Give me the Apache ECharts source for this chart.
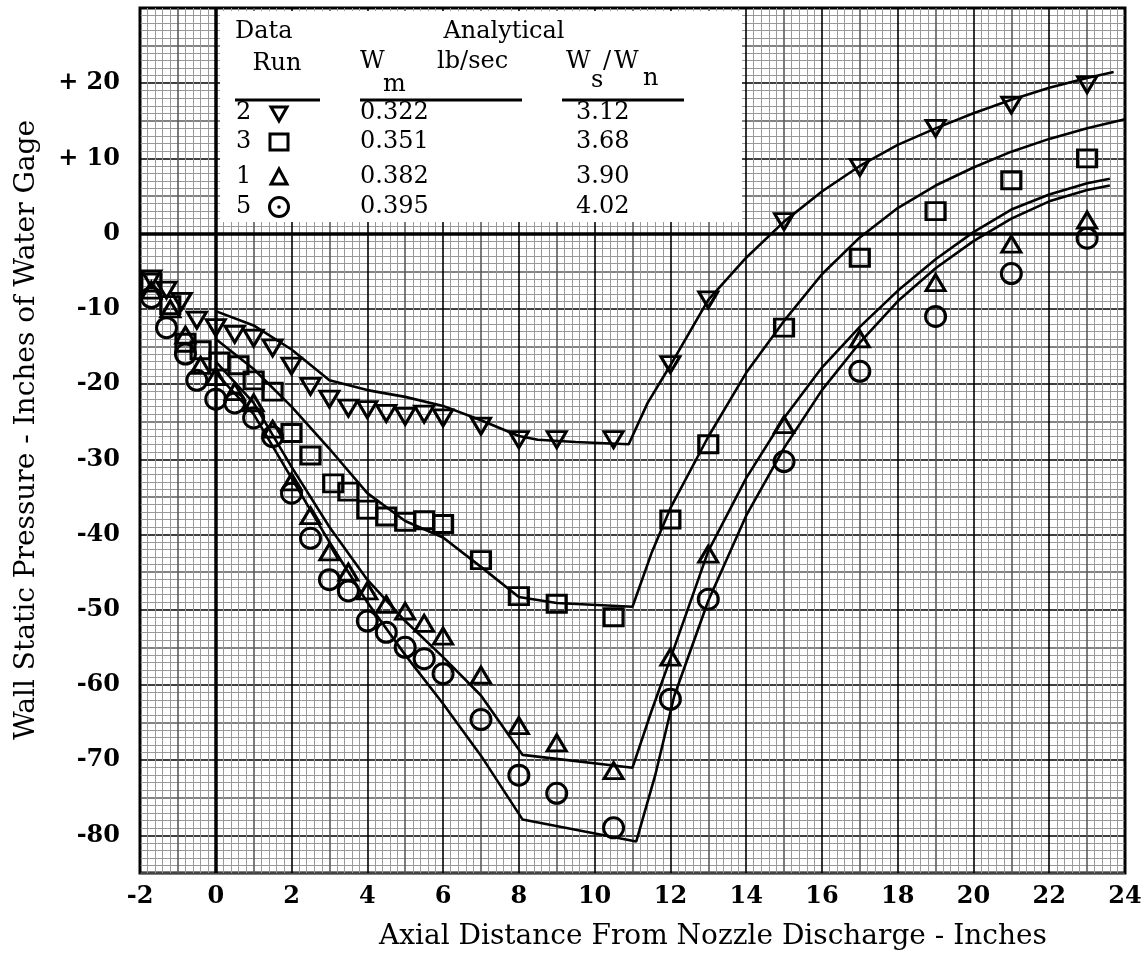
<!DOCTYPE html>
<html>
<head>
<meta charset="utf-8">
<script src="https://cdn.jsdelivr.net/npm/echarts@6/dist/echarts.min.js"></script>
<style>
  html, body { margin: 0; padding: 0; background: #fff; }
  #chart { width: 1145px; height: 955px; }
</style>
</head>
<body>
<div id="chart"></div>
<script>
// measured points, one pair of arrays per data run
const run2X = [-1.7, -1.3, -0.9, -0.5, 0.0, 0.5, 1.0, 1.5, 2.0, 2.5, 3.0, 3.5, 4.0, 4.5, 5.0, 5.5, 6.0, 7.0, 8.0, 9.0, 10.5, 12.0, 13.0, 15.0, 17.0, 19.0, 21.0, 23.0];
const run2Y = [-6.0, -7.5, -9.0, -11.5, -12.5, -13.4, -13.9, -15.2, -17.6, -20.3, -22.0, -23.2, -23.4, -23.9, -24.3, -24.0, -24.5, -25.6, -27.4, -27.4, -27.4, -17.4, -8.8, 1.6, 8.8, 14.0, 17.1, 19.8];

const run3X = [-1.7, -1.2, -0.8, -0.4, 0.1, 0.6, 1.0, 1.5, 2.0, 2.5, 3.1, 3.5, 4.0, 4.5, 5.0, 5.5, 6.0, 7.0, 8.0, 9.0, 10.5, 12.0, 13.0, 15.0, 17.0, 19.0, 21.0, 23.0];
const run3Y = [-6.5, -9.5, -14.5, -15.5, -17.0, -17.5, -19.5, -21.0, -26.5, -29.5, -33.2, -34.3, -36.7, -37.6, -38.3, -38.1, -38.6, -43.4, -48.2, -49.2, -51.0, -38.0, -28.0, -12.5, -3.2, 3.0, 7.1, 10.0];

const run1X = [-1.7, -1.2, -0.8, -0.4, 0.0, 0.5, 1.0, 1.5, 2.0, 2.5, 3.0, 3.5, 4.0, 4.5, 5.0, 5.5, 6.0, 7.0, 8.0, 9.0, 10.5, 12.0, 13.0, 15.0, 17.0, 19.0, 21.0, 23.0];
const run1Y = [-7.5, -10.0, -13.5, -17.5, -19.0, -21.0, -22.5, -26.0, -33.0, -37.5, -42.3, -45.0, -47.5, -49.3, -50.2, -51.8, -53.5, -58.7, -65.4, -67.7, -71.4, -56.3, -42.6, -25.4, -14.0, -6.5, -1.4, 1.8];

const run5X = [-1.7, -1.3, -0.8, -0.5, 0.0, 0.5, 1.0, 1.5, 2.0, 2.5, 3.0, 3.5, 4.0, 4.5, 5.0, 5.5, 6.0, 7.0, 8.0, 9.0, 10.5, 12.0, 13.0, 15.0, 17.0, 19.0, 21.0, 23.0];
const run5Y = [-8.5, -12.5, -16.0, -19.5, -22.0, -22.5, -24.5, -27.0, -34.5, -40.5, -46.0, -47.5, -51.5, -53.0, -55.0, -56.5, -58.5, -64.6, -72.0, -74.4, -79.0, -61.9, -48.6, -30.3, -18.3, -11.0, -5.3, -0.6];

// analytical curves
const line2X = [0, 1, 2, 3, 4, 5, 6, 7, 8, 8.5, 9.5, 10.9, 11.4, 12, 13, 14, 15, 16, 17, 18, 19, 20, 21, 22, 23, 23.7];
const line2Y = [-10.3, -12.2, -15.4, -19.5, -20.8, -21.7, -22.9, -24.8, -26.9, -27.4, -27.7, -28.0, -22.5, -17.5, -8.8, -3.2, 1.6, 5.6, 9.0, 11.8, 14.0, 16.0, 17.8, 19.4, 20.7, 21.5];

const line3X = [0, 1, 2, 3, 4, 5, 6, 7, 8, 9, 11, 11.5, 12, 13, 14, 15, 16, 17, 18, 19, 20, 21, 22, 23, 24];
const line3Y = [-14.0, -18.0, -23.0, -28.6, -34.5, -38.2, -40.4, -44.3, -48.3, -49.1, -49.6, -42.5, -36.5, -27.0, -18.5, -11.6, -5.4, -0.5, 3.4, 6.4, 8.8, 10.9, 12.6, 14.0, 15.2];

const line1X = [0, 1, 2, 3, 4, 5, 6, 7, 8.1, 11, 11.5, 12, 13, 14, 15, 16, 17, 18, 19, 20, 21, 22, 23, 23.6];
const line1Y = [-17.0, -22.5, -31.0, -39.0, -46.0, -51.5, -56.3, -61.4, -69.3, -71.0, -63.5, -56.5, -42.2, -32.5, -24.5, -17.8, -12.4, -7.6, -3.4, 0.2, 3.2, 5.2, 6.7, 7.3];

const line5X = [0, 1, 2, 3, 4, 5, 6, 7, 8.1, 11.1, 11.6, 12.1, 13, 14, 15, 16, 17, 18, 19, 20, 21, 22, 23, 23.6];
const line5Y = [-18.5, -24.0, -32.5, -41.0, -49.0, -56.0, -62.5, -69.4, -77.9, -80.8, -72.0, -61.5, -48.8, -37.5, -28.5, -20.8, -14.5, -9.0, -4.6, -1.0, 2.0, 4.3, 5.8, 6.4];

// legend table
const runNames = ['2', '3', '1', '5'];
const wmValues = ['0.322', '0.351', '0.382', '0.395'];
const ratioValues = ['3.12', '3.68', '3.90', '4.02'];

const zip = (xs, ys) => xs.map((x, i) => [x, ys[i]]);

const serif = '"DejaVu Serif", "Liberation Serif", serif';
const tickFont = { fontFamily: serif, fontSize: 24, fontWeight: 'bold', color: '#000' };
// hollow printed markers: grid and curves show through them
const markerStyle = { color: 'rgba(255,255,255,0)', borderColor: '#000', borderWidth: 3, opacity: 1 };
const curveStyle = { color: '#000', width: 2.6 };

const chart = echarts.init(document.getElementById('chart'));

function curve(xs, ys) {
    return {
        type: 'line', data: zip(xs, ys), showSymbol: false, symbol: 'none',
        lineStyle: curveStyle, z: 3, silent: true
    };
}

// table layout (pixels)
const rowY = [113, 142, 177, 207];
const tFont = '24px ' + serif;
const txt = (s, x, y, align, font) => ({
    type: 'text', x: x, y: y, z: 102,
    style: { text: s, font: font || tFont, fill: '#000', textAlign: align || 'left', textVerticalAlign: 'middle' }
});
const tableEls = [
    { type: 'rect', shape: { x: 220, y: 11, width: 522, height: 211 }, style: { fill: '#fff' }, z: 100 },
    txt('Data', 235, 32),
    txt('Analytical', 504, 32, 'center'),
    txt('Run', 277, 64, 'center'),
    txt('W', 360, 62), txt('m', 383, 85), txt('lb/sec', 437, 62),
    txt('W', 566, 62), txt('s', 591, 81), txt('/', 603, 62), txt('W', 614, 62), txt('n', 643, 79),
    { type: 'line', shape: { x1: 235, y1: 100, x2: 320, y2: 100 }, style: { stroke: '#000', lineWidth: 3 }, z: 101 },
    { type: 'line', shape: { x1: 360, y1: 100, x2: 522, y2: 100 }, style: { stroke: '#000', lineWidth: 3 }, z: 101 },
    { type: 'line', shape: { x1: 562, y1: 100, x2: 684, y2: 100 }, style: { stroke: '#000', lineWidth: 3 }, z: 101 }
];
const glyphStyle = { fill: '#fff', stroke: '#000', lineWidth: 3 };
const mx = 279;
tableEls.push(
    { type: 'polygon', shape: { points: [[mx - 8, rowY[0] - 6], [mx + 8, rowY[0] - 6], [mx, rowY[0] + 8]] }, style: glyphStyle, z: 102 },
    { type: 'rect', shape: { x: mx - 9, y: rowY[1] - 8, width: 18, height: 16 }, style: glyphStyle, z: 102 },
    { type: 'polygon', shape: { points: [[mx - 8, rowY[2] + 7], [mx + 8, rowY[2] + 7], [mx, rowY[2] - 8]] }, style: glyphStyle, z: 102 },
    { type: 'circle', shape: { cx: mx, cy: rowY[3], r: 9.5 }, style: glyphStyle, z: 102 },
    { type: 'circle', shape: { cx: mx, cy: rowY[3], r: 1.8 }, style: { fill: '#000' }, z: 103 }
);
runNames.forEach((r, i) => {
    tableEls.push(txt(r, 236, rowY[i]), txt(wmValues[i], 360, rowY[i]), txt(ratioValues[i], 576, rowY[i]));
});

const option = {
    backgroundColor: '#fff',
    animation: false,
    grid: { left: 140, right: 20, top: 8, bottom: 82, show: true, borderColor: '#000', borderWidth: 3, backgroundColor: '#fff' },
    xAxis: {
        type: 'value', min: -2, max: 24, interval: 1,
        axisLine: { show: false }, axisTick: { show: false },
        axisLabel: Object.assign({ margin: 12, showMinLabel: true, showMaxLabel: true, formatter: v => (v % 2 === 0 ? String(v) : '') }, tickFont),
        splitLine: { show: true, lineStyle: { color: ['#000', '#5a5a5a'], width: 1.6 } },
        minorTick: { show: false, splitNumber: 5 },
        minorSplitLine: { show: true, lineStyle: { color: '#999', width: 1 } }
    },
    yAxis: {
        type: 'value', min: -85, max: 30, interval: 5,
        axisLine: { show: false }, axisTick: { show: false },
        axisLabel: Object.assign({ margin: 20, formatter: v => (v % 10 === 0 && v !== 30 ? (v > 0 ? '+ ' + v : String(v)) : '') }, tickFont),
        splitLine: { show: true, lineStyle: { color: ['#5a5a5a', '#000'], width: 1.6 } },
        minorTick: { show: false, splitNumber: 5 },
        minorSplitLine: { show: true, lineStyle: { color: '#999', width: 1 } }
    },
    series: [
        Object.assign(curve(line2X, line2Y), {
            markLine: {
                silent: true, symbol: 'none', label: { show: false },
                lineStyle: { color: '#000', width: 3.5, type: 'solid' },
                data: [{ xAxis: 0 }, { yAxis: 0 }]
            }
        }),
        curve(line3X, line3Y),
        curve(line1X, line1Y),
        curve(line5X, line5Y),
        { type: 'scatter', name: '2', data: zip(run2X, run2Y), symbol: 'triangle', symbolRotate: 180, symbolSize: [19, 16], itemStyle: markerStyle, z: 5 },
        { type: 'scatter', name: '3', data: zip(run3X, run3Y), symbol: 'rect', symbolSize: [19, 17], itemStyle: markerStyle, z: 5 },
        { type: 'scatter', name: '1', data: zip(run1X, run1Y), symbol: 'triangle', symbolSize: [19, 16], itemStyle: markerStyle, z: 5 },
        { type: 'scatter', name: '5', data: zip(run5X, run5Y), symbol: 'circle', symbolSize: 20, itemStyle: markerStyle, z: 5 }
    ],
    graphic: tableEls.concat([
        {
            type: 'text', x: 713, y: 937, z: 102,
            style: { text: 'Axial Distance From Nozzle Discharge - Inches', font: '28px ' + serif, fill: '#000', textAlign: 'center', textVerticalAlign: 'middle' }
        },
        {
            type: 'text', x: 27, y: 430, rotation: Math.PI / 2, z: 102,
            style: { text: 'Wall Static Pressure - Inches of Water Gage', font: '28px ' + serif, fill: '#000', textAlign: 'center', textVerticalAlign: 'middle' }
        }
    ])
};

chart.setOption(option);
</script>
</body>
</html>
